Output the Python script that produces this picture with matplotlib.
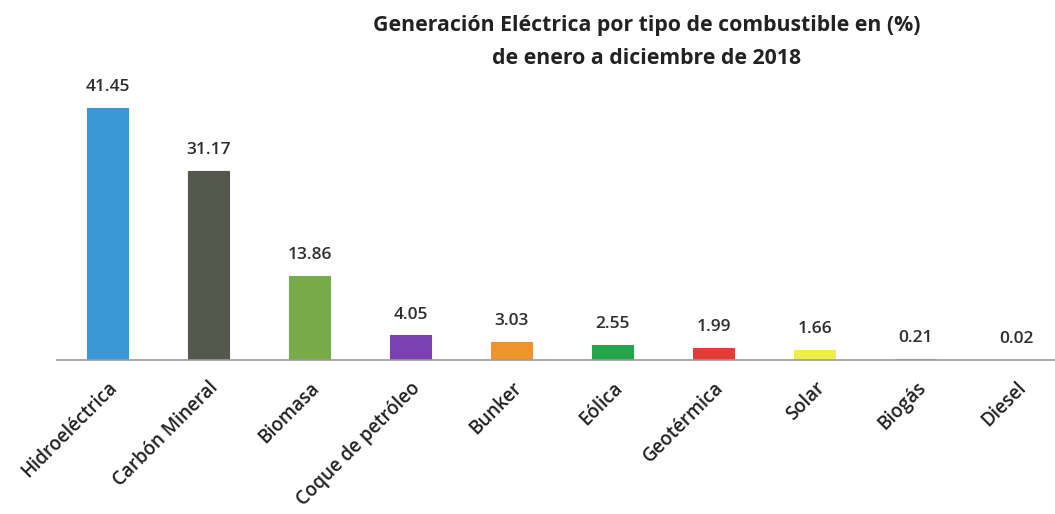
import matplotlib
matplotlib.use("Agg")
import matplotlib.pyplot as plt

categories = ["Hidroeléctrica", "Carbón Mineral", "Biomasa", "Coque de petróleo", "Bunker",
              "Eólica", "Geotérmica", "Solar", "Biogás", "Diesel"]
values = [41.45, 31.17, 13.86, 4.05, 3.03, 2.55, 1.99, 1.66, 0.21, 0.02]
colors = ["#3a98d8", "#54584c", "#78ab4a", "#7b40b2", "#f0922e", "#22a64c", "#e23c34",
          "#eeee44", "#a0a0a0", "#a0a0a0"]
title = "Generación Eléctrica por tipo de combustible en (%)\nde enero a diciembre de 2018"

plt.rcParams['font.family'] = ['Open Sans', 'DejaVu Sans']
fig = plt.figure(figsize=(10.55, 5.14), dpi=100)
ax = fig.add_axes([0.054, 0.2996, 0.946, 0.591])
x = list(range(len(categories)))
bars = ax.bar(x, values, width=0.4, color=colors, edgecolor=[c for c in colors], linewidth=0.8)
for xi, v in zip(x, values):
    ax.text(xi, v + 2.1, f"{v:.2f}", ha="center", va="bottom", fontsize=12.5,
            fontweight="semibold", color="#2e2e2e")
ax.set_xlim(-0.5, 9.38)
ax.set_ylim(0, 50)
for s in ["top", "right", "left"]:
    ax.spines[s].set_visible(False)
ax.spines["bottom"].set_color("#9a9a9a")
ax.spines["bottom"].set_linewidth(1.2)
ax.set_yticks([])
ax.set_xticks(x)
ax.set_xticklabels(categories, rotation=45, ha="right", rotation_mode="anchor", fontsize=13.5,
                   fontweight="semibold", color="#222222")
ax.tick_params(axis="x", length=0, pad=13)
fig.text(0.613, 0.97, title, ha="center", va="top", fontsize=15.3, fontweight="bold",
         color="#222222", linespacing=1.75)
fig.savefig("out.png", dpi=100)
